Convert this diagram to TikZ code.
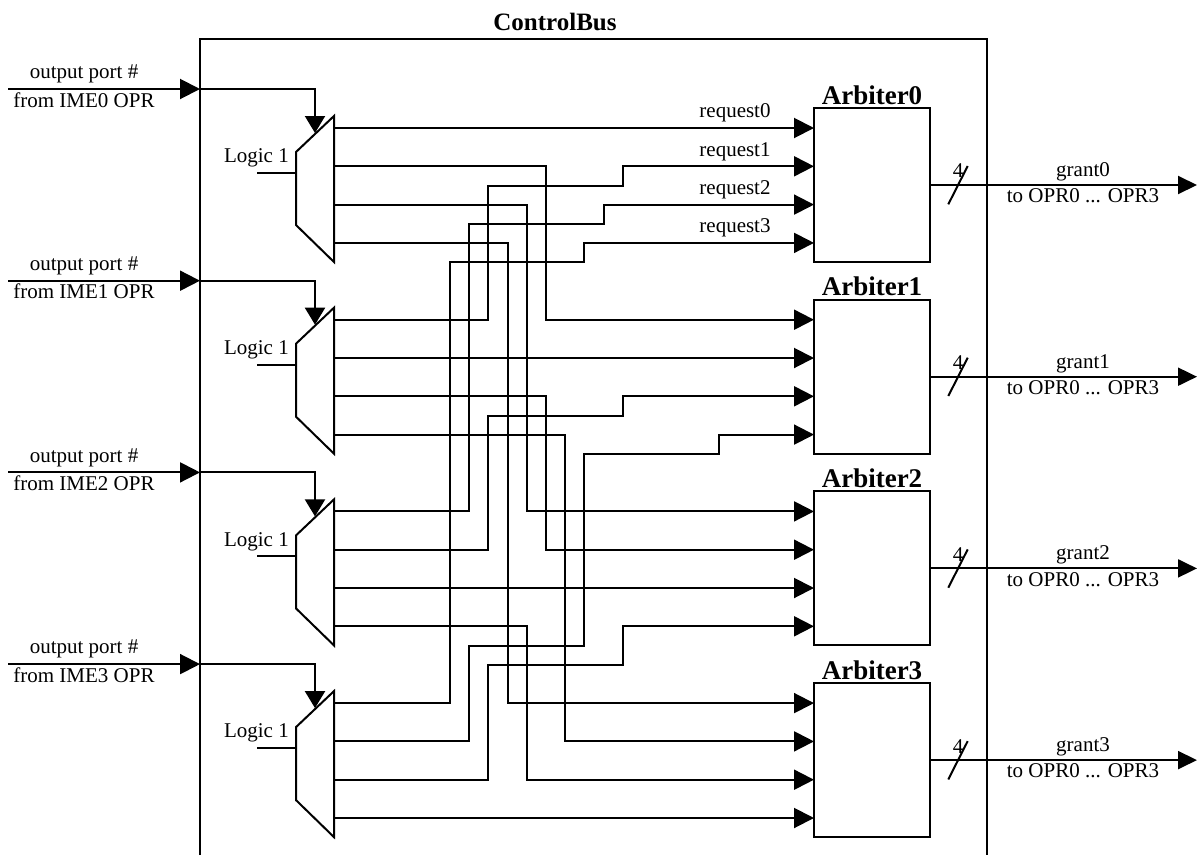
\documentclass[tikz,border=0pt]{standalone}
\usepackage{fontspec}
\setmainfont{Liberation Serif}
\usetikzlibrary{arrows.meta,calc}
\begin{document}
\begin{tikzpicture}[x=1pt,y=-1pt,
  wire/.style={line width=2pt},
  sig/.style={wire,-{Triangle[length=20pt,width=20pt]}},
  selarrow/.style={wire,-{Triangle[length=17pt,width=20pt]}},
  outarrow/.style={wire,-{Triangle[length=19pt,width=18pt]}},
  lbl/.style={font=\fontsize{21}{23}\selectfont, inner sep=0pt},
  arbbox/.style={draw,line width=2pt,minimum width=116pt,minimum height=154pt,inner sep=0pt},
  arblbl/.style={font=\bfseries\fontsize{27}{28}\selectfont, inner sep=0pt, anchor=base},
  titlelbl/.style={font=\bfseries\fontsize{25}{26}\selectfont, inner sep=0pt}]
\useasboundingbox (0,0) rectangle (1203,855);
\fill[white] (0,0) rectangle (1203,855);

% outer ControlBus box
\node[titlelbl] (title) at (555,22) {ControlBus};
\coordinate (bl) at (200,855);
\coordinate (tl) at (200,39);
\coordinate (tr) at (987,39);
\coordinate (br) at (987,855);
\draw[wire] (bl) -- (tl) -- (tr) -- (br);

% vertical routing tracks
\foreach \k in {0,...,7} \coordinate (v\k) at ({450+19.2*\k},0);
\coordinate (s0) at (584.4,0);
\coordinate (s1) at (603.6,0);
\coordinate (s2) at (622.8,0);
\coordinate (s3) at (718.8,0);

\foreach \i in {0,1,2,3}{
  \pgfmathsetmacro\oy{191.7*\i}
  % multiplexer
  \coordinate (mx\i a) at (296,{152+\oy});
  \coordinate (mx\i b) at (334,{116+\oy});
  \coordinate (mx\i c) at (334,{262+\oy});
  \coordinate (mx\i d) at (296,{225+\oy});
  \draw[wire, line join=miter] (mx\i a) -- (mx\i b) -- (mx\i c) -- (mx\i d) -- cycle;
  \foreach \j in {0,1,2,3}{
    \coordinate (m\i o\j) at (334,{128+\oy+38.3*\j});
    \coordinate (a\i-\j) at (814,{128+\oy+38.3*\j});
  }
  % arbiter
  \node[arbbox] (A\i) at (872,{185+\oy}) {};
  \node[arblbl] (At\i) at ($(A\i.north)+(0,-3)$) {Arbiter\i};
  % input port
  \coordinate (src\i) at (8,{89+\oy});
  \coordinate (port\i) at (200,{89+\oy});
  \coordinate (sel\i) at (315,{133+\oy});
  \draw[sig] (src\i) -- (port\i);
  \draw[selarrow] (port\i) -| (sel\i);
  \node[lbl] (op\i) at (84,{74+\oy}) {output port \#};
  \node[lbl] (fr\i) at (84,{100+\oy}) {from IME\i\ OPR};
  % logic 1
  \coordinate (l\i) at (257,{173+\oy});
  \coordinate (lm\i) at (296,{173+\oy});
  \draw[wire] (l\i) -- (lm\i);
  \node[lbl,anchor=east] (lg\i) at (289,{158+\oy}) {Logic 1};
  % grant output
  \coordinate (g\i) at (1197,{185+\oy});
  \draw[outarrow] (A\i.east) -- (g\i);
  \coordinate (sl\i a) at (948.3,{204.3+\oy});
  \coordinate (sl\i b) at (967.7,{166+\oy});
  \draw[wire] (sl\i a) -- (sl\i b);
  \node[lbl] (n\i) at (958,{171+\oy}) {4};
  \node[lbl] (gr\i) at (1083,{171.7+\oy}) {grant\i};
  \node[lbl] (to\i) at (1083,{196+\oy}) {to OPR0 ... OPR3};
}

% request labels
\foreach \j in {0,1,2,3}
  \node[lbl] (rq\j) at (735,{113+38.3*\j}) {request\j};

% crossbar wiring: mux i output j -> arbiter j input i
\draw[sig] (m0o0) -- (a0-0);
\draw[sig] (m0o1) -| (v5 |- a1-0) -- (a1-0);
\draw[sig] (m0o2) -| (v4 |- a2-0) -- (a2-0);
\draw[sig] (m0o3) -| (v3 |- a3-0) -- (a3-0);

\draw[sig] (m1o0) -| ($(v2 |- a0-1)+(0,19.2)$) -| (s2 |- a0-1) -- (a0-1);
\draw[sig] (m1o1) -- (a1-1);
\draw[sig] (m1o2) -| (v5 |- a2-1) -- (a2-1);
\draw[sig] (m1o3) -| (v6 |- a3-1) -- (a3-1);

\draw[sig] (m2o0) -| ($(v1 |- a0-2)+(0,19.2)$) -| (s1 |- a0-2) -- (a0-2);
\draw[sig] (m2o1) -| ($(v2 |- a1-2)+(0,19.2)$) -| (s2 |- a1-2) -- (a1-2);
\draw[sig] (m2o2) -- (a2-2);
\draw[sig] (m2o3) -| (v4 |- a3-2) -- (a3-2);

\draw[sig] (m3o0) -| ($(v0 |- a0-3)+(0,19.2)$) -| (s0 |- a0-3) -- (a0-3);
\draw[sig] (m3o1) -| ($(v1 |- a2-3)+(0,19.2)$) -| ($(s0 |- a1-3)+(0,19.2)$) -| (s3 |- a1-3) -- (a1-3);
\draw[sig] (m3o2) -| ($(v2 |- a2-3)+(0,38.3)$) -| (s2 |- a2-3) -- (a2-3);
\draw[sig] (m3o3) -- (a3-3);
\end{tikzpicture}
\end{document}
